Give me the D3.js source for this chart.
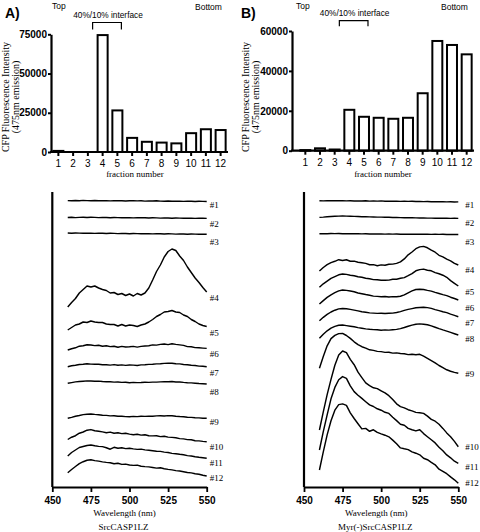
<!DOCTYPE html>
<html><head><meta charset="utf-8">
<script src="https://cdn.jsdelivr.net/npm/d3@7"></script>
<style>body{margin:0;background:#fff}svg{display:block}</style>
</head><body>
<svg id="c" width="480" height="532"></svg>
<script>
// ---------- data ----------
const fractions = [1,2,3,4,5,6,7,8,9,10,11,12];
const intensityA = [700, 0, 0, 74500, 26500, 9000, 6500, 6000, 5500, 12000, 14500, 14000];
const intensityB = [300, 1200, 600, 20500, 17000, 16500, 16000, 16500, 28800, 55000, 53000, 48300];
const yTicksA = [0, 25000, 50000, 75000];
const yTicksB = [0, 20000, 40000, 60000];

const wavelengths = [460,462.5,465,467.5,470,472.5,475,477.5,480,482.5,485,487.5,490,492.5,495,497.5,500,502.5,505,507.5,510,512.5,515,517.5,520,522.5,525,527.5,530,532.5,535,537.5,540,542.5,545,547.5,550];
const wlTicks = [450, 475, 500, 525, 550];
const traceNames = ["#1","#2","#3","#4","#5","#6","#7","#8","#9","#10","#11","#12"];

// offset emission spectra (arbitrary stacked units), SrcCASP1LZ
const spectraA = [
 [286.4,286.2,286.5,286.3,286.6,286.4,286.3,286.5,286.2,286.4,286.3,286.1,286.4,286.2,286.3,286.0,286.2,286.3,286.1,286.2,285.9,286.1,286.0,286.2,285.9,285.8,286.0,285.7,285.9,285.8,285.6,285.8,285.7,285.5,285.7,285.6,285.5],
 [269.5,269.7,269.4,269.6,269.8,269.5,269.7,269.6,269.4,269.6,269.5,269.3,269.5,269.4,269.2,269.4,269.3,269.1,269.3,269.4,269.2,269.0,269.2,269.1,268.9,269.1,269.0,268.8,269.0,268.9,268.7,268.9,268.8,268.6,268.8,268.7,268.6],
 [254.0,253.8,254.0,253.9,253.7,253.9,253.8,253.6,253.8,253.7,253.5,253.7,253.6,253.4,253.6,253.5,253.3,253.5,253.4,253.2,253.4,253.3,253.1,253.3,253.2,253.0,253.2,253.1,252.9,253.1,253.0,252.8,253.0,252.9,252.8,252.9,252.8],
 [180,184.5,188.5,194,197.5,201,200,201,199,197.5,196.5,194,194.5,192.5,193.5,191.5,193,191,193.5,192,194,199,207,215.5,222,230,235.5,238,236.5,231,226.5,220,214.5,209,204.5,199.5,195],
 [157,159.5,162,163,165,164.5,166,165,164.5,164.5,163,162.5,162.5,161,162.5,161,162,161.5,160.5,162,163,165,167.5,170.5,172.5,175,175.5,176.5,175,174.5,172,170.5,167.5,165.5,163,161.5,160.5],
 [137,138.3,139.2,140.8,141.3,142.3,142,141.4,141.8,140.8,141.2,140.4,140.7,139.8,140.6,140,140.2,140.6,139.9,140.6,141,141.3,142.1,141.9,142.6,143,142.4,143.2,142.6,142.1,141.6,140.4,140.2,139.4,139.2,138.9,138.6],
 [120.3,121.2,121.8,122.5,122.7,123.2,122.9,122.7,122.8,122.3,122.3,121.9,122.4,121.7,122.1,121.6,122,121.9,121.5,122.1,122.2,122.6,122.7,123.1,123.2,123.6,123.7,123.8,123.2,123.1,122.5,122.3,121.7,121.5,120.9,120.8,120.3],
 [103.7,104.4,105.1,105.5,105.8,106.1,106,105.8,105.9,105.5,105.3,105.2,104.9,105,104.6,104.7,104.3,104.6,104.4,104.5,104.7,104.6,104.9,104.9,105.1,105.2,105.3,105.5,105,105,104.6,104.3,104.1,103.8,103.5,103.3,103],
 [68.7,69.6,70.7,71.5,72.4,72.8,73,72.6,72.3,71.8,71.6,71.1,71.2,70.7,70.8,70.4,70.3,70.6,70.4,70.7,70.6,70.9,70.8,71.1,71.3,71,71.4,71.3,70.8,70.5,70.3,69.8,69.6,69.3,69.1,68.8,68.7],
 [47.5,49.8,51.3,53.8,55,56.8,57.4,56.2,55.8,55.1,54.3,54.9,53.8,54.2,53.4,53.8,52.9,52.3,52.8,51.9,52.2,51.3,51.1,51.3,50.4,50.7,49.9,49.6,49.2,48.4,48.1,47.4,47.2,46.3,46.1,45.6,45.3],
 [31,34.5,37,39.5,40.5,41.5,42,41.2,40.6,40.4,39.3,37.8,39.7,38.8,39.3,38.4,38.7,38.1,37.6,37.9,37.1,36.8,36.3,35.8,35.6,34.9,34.5,33.6,33.3,32.7,32.2,31.4,31,30.3,29.7,29.2,28.7],
 [14.3,17.5,20.5,23.4,25.3,26.8,27.3,26.4,25.9,25.1,24.6,24.2,23.2,23.8,22.6,22.9,22,21.6,21.9,20.8,20.4,20.1,19.5,18.9,19.2,18.3,17.6,17.1,16.4,16,15.3,14.5,14.1,13.2,12.7,11.8,11]
];
// offset emission spectra, Myr(-)SrcCASP1LZ
const spectraB = [
 [286.3,286.1,286.4,286.2,286.3,286.2,286.4,286.1,286.2,286,286.1,286,286.2,285.9,286,285.9,286.1,285.8,285.9,285.7,285.9,285.6,285.8,285.6,285.7,285.5,285.6,285.4,285.5,285.3,285.4,285.2,285.3,285.1,285.2,285,285.1],
 [269.6,269.9,270.3,270.5,270.7,270.9,271,270.9,270.8,270.6,270.5,270.3,270.3,270.1,270,269.9,269.9,269.7,269.7,269.5,269.5,269.4,269.3,269.2,269.2,269.1,269,269,268.9,268.9,268.8,268.8,268.7,268.7,268.6,268.7,268.6],
 [253.2,253.4,253.3,253.5,253.4,253.5,253.3,253.4,253.3,253.2,253.3,253.1,253.2,253,253.1,253,253.1,252.9,253,252.9,253,252.8,252.9,252.8,252.9,252.7,252.8,252.7,252.8,252.6,252.7,252.6,252.7,252.5,252.6,252.5,252.5],
 [216,219.5,222.3,224.4,225.7,227.3,226.5,227.2,225.8,225.9,224.8,224.2,223.6,222.3,222.4,221.3,222.1,221.8,222.7,222.9,223.6,225.2,228.1,232.2,235,238.3,240.1,240.6,239.2,236.8,234.8,231.7,230.1,227.8,226.2,223.7,222],
 [199.7,203.2,205.9,208.7,210.4,212.2,213,212.6,211.8,211.2,210.3,209.7,208.8,208.3,207.4,207.2,206.8,206.7,206.9,207.7,207.8,208.7,209.4,211.3,213.4,216.2,217.4,217.9,216.8,216.2,214.4,213.2,211.8,209.7,206.4,203.7,201],
 [183,186.4,189.6,192.2,194.3,196.1,197,196.6,196,195.2,194,193.3,192.5,191.8,190.9,190.6,190.2,190.5,190,190.4,190.3,190.8,192.1,194.2,196.1,197.5,197.8,197.5,196.6,195.9,194.6,193.5,192.4,191.4,189.8,188.5,187],
 [166.3,169.7,172.6,175,176.8,178.1,178.5,178.3,177.6,176.9,176.1,175.2,174.8,174.1,173.9,173.6,173.8,173.5,173.7,173.9,174.5,175.4,176.6,177.6,178.4,179.2,179.5,179.8,179.4,178.6,177.4,176.4,175.3,174.4,172.9,171.6,170.3],
 [148.7,152.8,156.2,158.9,160.6,161.7,162,161.4,160.8,160.2,159.4,158.8,158.1,157.7,157.4,157.2,156.8,157.1,156.9,157.3,157.6,158.4,159.5,160.8,161.9,162.7,163.1,162.8,162.3,161.1,159.8,158.4,157.1,155.9,154.6,153.3,152],
 [118.7,130.5,141.2,148.4,151.6,153.4,153.6,151.5,148.6,145.2,142.4,140.3,138.9,137.2,136.6,135.6,135.4,134.6,134.8,133.9,134.1,133.5,133.2,132.4,132.8,132.3,132.7,130.8,128.6,126.4,124.2,121.5,119.3,117.2,115.8,114.6,113.7],
 [57,75.2,92.4,107.6,121.8,131.9,136,134.3,127.6,122.3,114.8,109.4,104.1,101.3,99.2,98.4,96.2,94.1,91.3,87.5,83.2,80.4,79.1,77.3,76.1,74.6,74.2,73.6,70.9,67.6,65.8,62.7,58.6,54.1,50.3,45.6,40.3],
 [37,55.3,72.1,88.2,99.6,107.3,110.4,108.6,101.2,95.4,91.8,88.6,85.3,82.1,80.5,78.2,76.8,74.7,73.6,69.8,66.4,62.8,61.7,58.6,57.3,56.1,57.2,53.4,50.3,47.2,44.1,39.8,36.3,32.1,29.2,25.8,23.7],
 [17,35.2,52.1,66.3,76.8,82.4,83.1,81.6,74.2,68.5,63.3,58.1,58.6,55.7,57.2,54.6,53.1,51.8,50.2,46.9,43.3,39.1,38.2,37.4,35.1,33.8,32.2,28.7,27.3,24.6,22.2,17.8,15.7,13.3,10.1,7.2,3.7]
];
// label anchor levels (same stacked units)
const labelLevelsA = [282, 263, 245, 189, 154, 133, 114, 95.3, 65.3, 39.7, 23.7, 8.7];
const labelLevelsB = [282, 263.7, 245.3, 217, 195.3, 179.3, 163.7, 147.7, 112.7, 39.7, 20.3, 4.3];

// ---------- drawing ----------
const svg = d3.select('#c');
const SANS = "'Liberation Sans', Arial, Helvetica, sans-serif";
const SERIF = "'Liberation Serif', 'Times New Roman', serif";

function barPanel(o) {
  const g = svg.append('g');
  const x = d3.scaleBand().domain(fractions).range(o.xRange).paddingInner(0.32).paddingOuter(0.16);
  const y = d3.scaleLinear().domain([0, o.yMax]).range(o.yRange);

  g.selectAll('rect').data(o.values).join('rect')
    .attr('x', (d, i) => x(fractions[i])).attr('width', x.bandwidth())
    .attr('y', d => y(d)).attr('height', d => y(0) - y(d))
    .attr('fill', '#fff').attr('stroke', '#000').attr('stroke-width', 2);

  const ya = g.append('g').attr('transform', `translate(${o.axisX},0)`)
    .call(d3.axisLeft(y).tickValues(o.ticks).tickSize(3).tickSizeOuter(0).tickPadding(1).tickFormat(d3.format('d')));
  ya.select('.domain').attr('stroke-width', 2.2);
  ya.selectAll('.tick line').attr('stroke-width', 2);
  ya.selectAll('text').attr('font-family', SANS).attr('font-weight', 'bold').attr('font-size', 10).attr('fill', '#000');

  g.append('line').attr('x1', o.axisX - 1).attr('x2', o.xRange[1]).attr('y1', y(0)).attr('y2', y(0))
    .attr('stroke', '#000').attr('stroke-width', 2.2);
  const xa = g.append('g').attr('transform', `translate(0,${y(0)})`)
    .call(d3.axisBottom(x).tickSize(4).tickSizeOuter(0).tickPadding(4));
  xa.select('.domain').remove();
  xa.selectAll('.tick line').attr('stroke-width', 2);
  xa.selectAll('text').attr('font-family', SANS).attr('font-size', 10).attr('fill', '#000');

  // titles
  g.append('text').attr('x', o.letterX).attr('y', 18).text(o.letter)
    .attr('font-family', SANS).attr('font-weight', 'bold').attr('font-size', 14);
  g.append('text').attr('x', o.topX).attr('y', 9).text('Top').attr('font-family', SANS).attr('font-size', 8.5);
  g.append('text').attr('x', o.bottomX).attr('y', 9.5).text('Bottom').attr('font-family', SANS).attr('font-size', 8.5);
  const bx1 = x(4) - 5, bx2 = x(5) + x.bandwidth() - 1;
  g.append('path').attr('d', `M${bx1},${o.bracketY + o.bracketH}V${o.bracketY}H${bx2}V${o.bracketY + o.bracketH}`)
    .attr('fill', 'none').attr('stroke', '#000').attr('stroke-width', 1.2);
  g.append('text').attr('x', (bx1 + bx2) / 2 + 1).attr('y', o.bracketY - 4.5).attr('text-anchor', 'middle')
    .text('40%/10% interface').attr('font-family', SANS).attr('font-size', 8.3);

  const midY = 97;
  g.append('text').attr('transform', `translate(${o.titleX1},${midY}) rotate(-90)`).attr('text-anchor', 'middle')
    .text('CFP Fluorescence Intensity').attr('font-family', SERIF).attr('font-size', 10);
  g.append('text').attr('transform', `translate(${o.titleX2},${midY}) rotate(-90)`).attr('text-anchor', 'middle')
    .text('(475nm emission)').attr('font-family', SERIF).attr('font-size', 10);
  g.append('text').attr('x', o.fracX).attr('y', 176.5).attr('text-anchor', 'middle')
    .text('fraction number').attr('font-family', SERIF).attr('font-size', 9);
}

function spectraPanel(o) {
  const g = svg.append('g');
  const x = d3.scaleLinear().domain([450, 550]).range(o.xRange);
  const y = d3.scaleLinear().domain([0, 295]).range([487, 192]);

  g.append('line').attr('x1', x(450)).attr('x2', x(450)).attr('y1', y(0)).attr('y2', y(295))
    .attr('stroke', '#000').attr('stroke-width', 2.2);
  const xa = g.append('g').attr('transform', `translate(0,${y(0)})`)
    .call(d3.axisBottom(x).tickValues(wlTicks).tickSize(5).tickSizeOuter(0).tickPadding(4.5).tickFormat(d3.format('d')));
  xa.select('.domain').attr('stroke-width', 2.2);
  xa.selectAll('.tick line').attr('stroke-width', 1.8);
  xa.selectAll('text').attr('font-family', SANS).attr('font-weight', 'bold').attr('font-size', 10).attr('fill', '#000');

  const line = d3.line().x((d, i) => x(wavelengths[i])).y(d => y(d));
  g.selectAll('path.spec').data(o.spectra).join('path').attr('class', 'spec')
    .attr('d', line).attr('fill', 'none').attr('stroke', '#000').attr('stroke-width', 1.45)
    .attr('stroke-linejoin', 'round');

  g.selectAll('text.lab').data(traceNames).join('text').attr('class', 'lab')
    .attr('x', x(550) + o.labelGap).attr('y', (d, i) => y(o.levels[i])).attr('dy', '0.35em')
    .text(d => d).attr('font-family', SERIF).attr('font-size', 9);

  const cx = (x(450) + x(550)) / 2;
  g.append('text').attr('x', cx - 5).attr('y', 515.5).attr('text-anchor', 'middle')
    .text('Wavelength (nm)').attr('font-family', SERIF).attr('font-size', 9);
  g.append('text').attr('x', cx - 6).attr('y', 530).attr('text-anchor', 'middle')
    .text(o.name).attr('font-family', SERIF).attr('font-size', 9);
}

barPanel({ values: intensityA, yMax: 75000, ticks: yTicksA, xRange: [51, 228], yRange: [152, 34.3], axisX: 51,
  letter: 'A)', letterX: 5, topX: 52, bottomX: 195, bracketY: 22.5, bracketH: 7,
  titleX1: 8.5, titleX2: 18.5, fracX: 135 });
barPanel({ values: intensityB, yMax: 60000, ticks: yTicksB, xRange: [298, 474], yRange: [150.7, 31], axisX: 292,
  letter: 'B)', letterX: 241, topX: 296, bottomX: 441, bracketY: 20.7, bracketH: 5.5,
  titleX1: 248.5, titleX2: 259, fracX: 383 });

spectraPanel({ spectra: spectraA, levels: labelLevelsA, xRange: [52.3, 206.7], labelGap: 3, name: 'SrcCASP1LZ' });
spectraPanel({ spectra: spectraB, levels: labelLevelsB, xRange: [304, 458.3], labelGap: 7, name: 'Myr(-)SrcCASP1LZ' });
</script>
</body></html>
